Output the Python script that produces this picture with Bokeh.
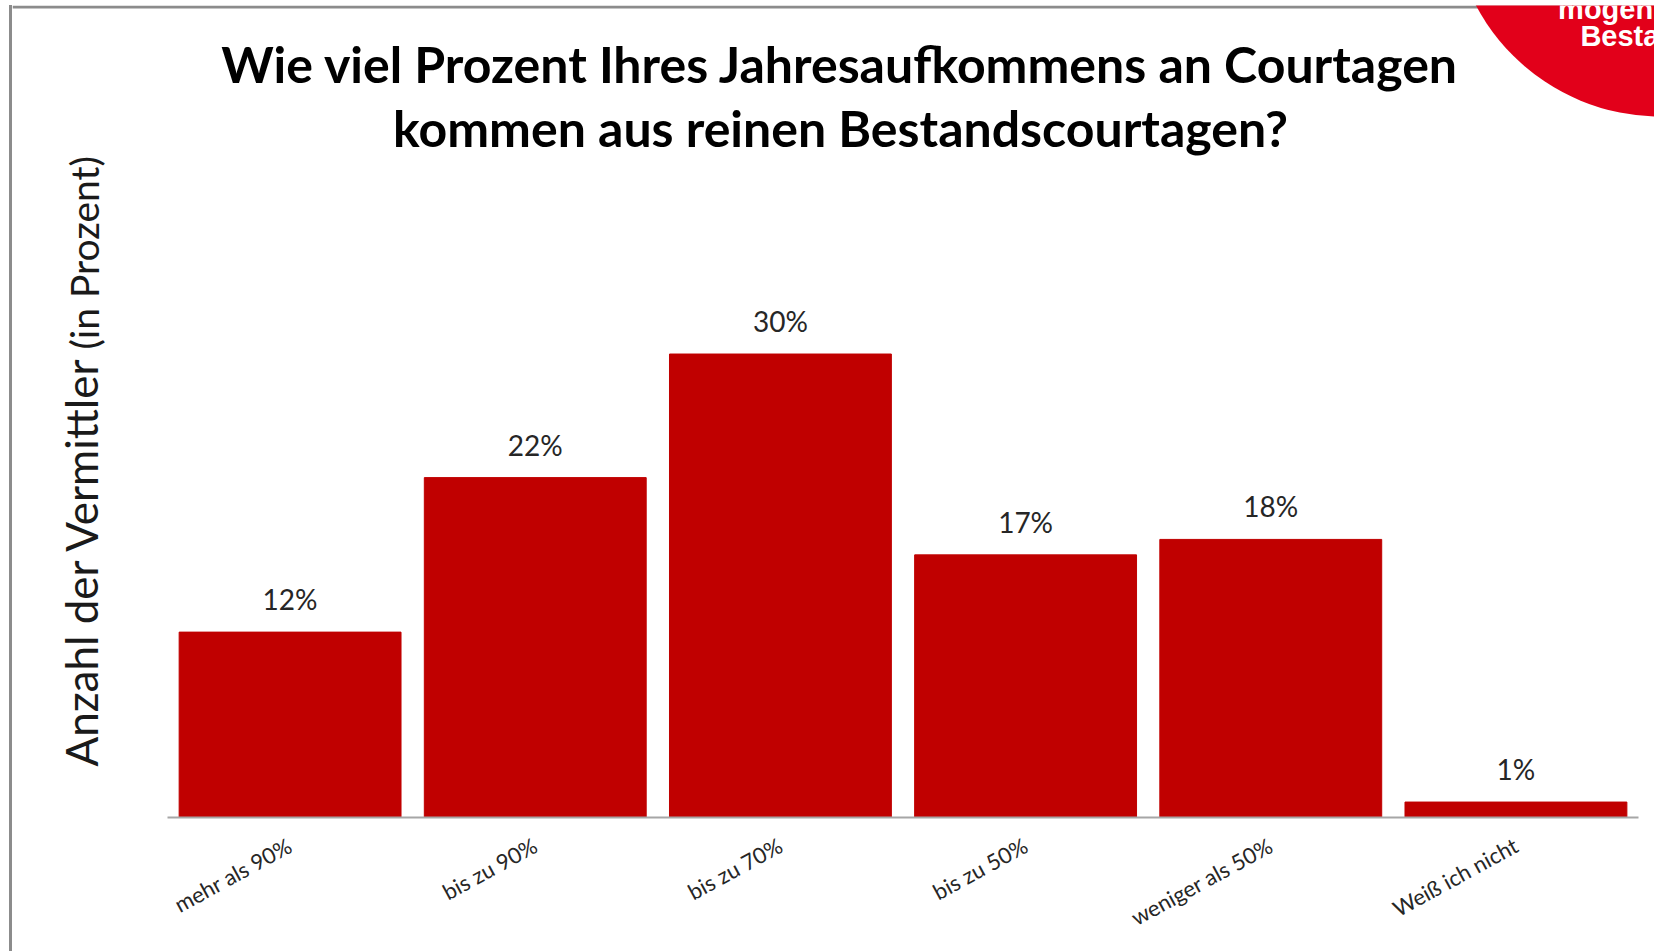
import math
import numpy as np
from bokeh.plotting import figure
from bokeh.models import Range1d, FixedTicker, Label, Span, ColumnDataSource
from bokeh.core.properties import value
from bokeh.embed import file_html
from bokeh.resources import INLINE

# ---- data ----
categories = ["mehr als 90%", "bis zu 90%", "bis zu 70%", "bis zu 50%", "weniger als 50%", "Weiß ich nicht"]
shares = [12, 22, 30, 17, 18, 1]
share_labels = [f"{v}%" for v in shares]
title_lines = ["Wie viel Prozent Ihres Jahresaufkommens an Courtagen",
               "kommen aus reinen Bestandscourtagen?"]
ylabel_main = "Anzahl der Vermittler"
ylabel_sub = "(in Prozent)"
badge_lines = ["mögen", "Besta"]

# ---- styles ----
BAR_COLOR = "#C00000"
BADGE_COLOR = "#E2001A"
BORDER_COLOR = "#8c8c8c"
FONT = "Lato"

xpos = np.arange(len(categories)) + 0.5
src = ColumnDataSource(dict(x=xpos, top=shares, lab=share_labels))

p = figure(width=1645, height=946, output_backend="svg", toolbar_location=None,
           x_range=Range1d(-0.6322, 6.0774), y_range=Range1d(0, 52.56),
           min_border_left=0, min_border_right=0, min_border_top=0, min_border_bottom=134,
           tools="")
p.styles = {"margin-left": "9px", "margin-top": "5px", "border-left": f"3px solid {BORDER_COLOR}"}
p.grid.visible = False
p.yaxis.visible = False
p.outline_line_color = None
p.background_fill_color = "white"
p.border_fill_color = "white"

# top frame line of the slide (under the badge)
p.add_layout(Span(location=52.46, dimension="width", line_color=BORDER_COLOR, line_width=3, level="underlay"))

# badge circle (decoration, top-right)
p.circle(x=[6.090], y=[58.9], radius=209, radius_units="screen", fill_color=BADGE_COLOR, line_color=None)
p.text(x=[5.672, 5.763], y=[52.36, 50.61], text=badge_lines, text_color="white",
       text_font=value("Liberation Sans"), text_font_style="bold", text_font_size="29px",
       text_baseline="alphabetic", text_align="left")

p.vbar(x="x", top="top", width=0.905, source=src, fill_color=BAR_COLOR, line_color=BAR_COLOR)
p.text(x="x", y="top", text="lab", source=src, text_align="center", text_baseline="bottom",
       y_offset=-16, text_font=value(FONT), text_font_size="28px", text_color="#262626")

ax = p.xaxis[0]
ax.ticker = FixedTicker(ticks=list(xpos))
ax.major_label_overrides = {float(x): c for x, c in zip(xpos, categories)}
ax.major_label_orientation = 0.5
ax.major_label_text_font = FONT
ax.major_label_text_font_size = "22px"
ax.major_label_text_color = "#262626"
ax.major_label_standoff = 20
ax.major_tick_line_color = None
ax.minor_tick_line_color = None
ax.axis_line_color = "#a6a6a6"
ax.axis_line_width = 2
ax.bounds = (0, len(categories))

# title
for txt, ym in zip(title_lines, [48.80, 44.66]):
    p.add_layout(Label(x=2.745, y=ym, text=txt, text_align="center", text_baseline="middle",
                       text_font=FONT, text_font_style="bold", text_font_size="50px", text_color="black"))

# y label
p.add_layout(Label(x=-0.3508, y=3.30, text=ylabel_main, angle=math.pi / 2, text_align="left",
                   text_baseline="middle", text_font=FONT, text_font_size="44px", text_color="#1a1a1a"))
p.add_layout(Label(x=-0.3406, y=30.29, text=ylabel_sub, angle=math.pi / 2, text_align="left",
                   text_baseline="middle", text_font=FONT, text_font_size="39px", text_color="#1a1a1a"))

open("out.html", "w").write(file_html(p, INLINE))
